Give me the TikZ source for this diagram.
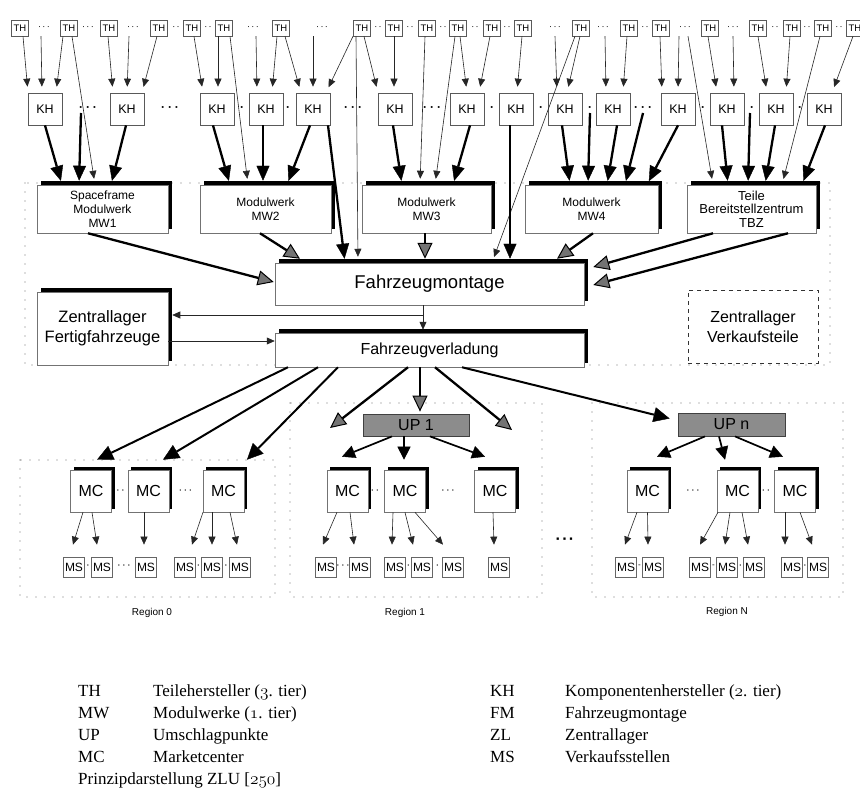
\documentclass[tikz,border=0pt]{standalone}
\usepackage{fontspec}
\setsansfont{Liberation Sans}
\newfontfamily\legendfont{Liberation Serif}
\usetikzlibrary{arrows.meta,shadows}
\newcommand\myfs[2]{\fontsize{#1}{#2}\selectfont}
\newcommand\osnum[1]{$\mathnormal{#1}$}
\newcommand\dthree{·\kern1.3pt·\kern1.3pt·}
\newcommand\dtwo{·\kern1.3pt·}
\newcommand\kthree{·\kern3pt·\kern3pt·}
\begin{document}
\begin{tikzpicture}[x=1pt,y=-1pt,
  every node/.style={inner sep=0pt},
  thbox/.style={draw=black!65,line width=0.6pt,minimum width=17pt,minimum height=16pt,font=\sffamily\myfs{9.5}{10}},
  thdots/.style={minimum height=16pt,font=\sffamily\myfs{9}{10}},
  khbox/.style={draw=black!65,line width=0.7pt,minimum width=34pt,minimum height=32pt,font=\sffamily\myfs{12.5}{13}},
  khdots/.style={minimum height=32pt,font=\sffamily\bfseries\myfs{12}{13}},
  shbox/.style={draw=black!55,line width=0.5pt,fill=white,general shadow={fill=black,shadow xshift=4pt,shadow yshift=4pt}},
  mwbox/.style={shbox,minimum height=48pt,align=center,font=\sffamily\myfs{12}{14}},
  mcbox/.style={draw=black!55,line width=0.6pt,fill=white,general shadow={fill=black,shadow xshift=3pt,shadow yshift=3pt},minimum width=41pt,minimum height=42pt,font=\sffamily\myfs{16}{16}},
  msbox/.style={draw=black!60,line width=0.7pt,minimum width=21pt,minimum height=20pt,font=\sffamily\myfs{12}{12}},
  upbox/.style={draw=black!75,line width=0.8pt,fill=black!45,font=\sffamily\myfs{16}{16}},
  smdots/.style={font=\sffamily\myfs{11}{12}},
  tinysep/.style={font=\sffamily\myfs{8}{9}},
  dotframe/.style={draw=black!55,line width=1.2pt,dash pattern=on 0pt off 9pt,line cap=round},
  tar/.style={draw=black!85,line width=0.6pt,-{Triangle[length=8pt,width=7pt]},shorten >=6pt},
  tarx/.style={draw=black!85,line width=0.6pt,-{Triangle[length=8pt,width=7pt]}},
  kar/.style={draw=black,line width=2.3pt,-{Triangle[length=15pt,width=13pt,line width=0.4pt]},shorten >=4pt},
  gar/.style={draw=black,line width=2.3pt,-{Triangle[length=16pt,width=15pt,line width=1pt,fill=black!55]}},
  far/.style={draw=black,line width=2pt,-{Triangle[length=16pt,width=15pt,line width=0.4pt]}},
  mar/.style={draw=black,line width=1.7pt,-{Triangle[length=13pt,width=13pt,line width=0.4pt]}},
  leg/.style={anchor=base west,font=\legendfont\myfs{17}{19}},
]
\fill[white] (0,0) rectangle (860,803);
\path[use as bounding box] (0,0) rectangle (860,803);

% dotted frames: plant area and the three regions
\draw[dotframe] (25,183) rectangle (830,365);
\draw[dotframe] (20,460) rectangle (275,597);
\draw[dotframe] (290,403) rectangle (542,597);
\draw[dotframe] (592,403) rectangle (843,597);

% 3rd tier: parts suppliers
\foreach \x in {20,69,109,159,192,224,281,362,394,427,458,492,523,581,629,661,710,758,792,823,855}
  \node[thbox] (t\x) at (\x,28) {TH};
\foreach \x/\s in {44/\dthree,88/\dthree,133/\dthree,176/\dtwo,208/\dtwo,253/\dthree,322/\dthree,
  378/\dtwo,410/\dtwo,443/\dtwo,475/\dtwo,507/\dtwo,555/\dthree,603/\dthree,645/\dtwo,685/\dthree,
  733/\dthree,775/\dtwo,807/\dtwo,839/\dtwo}
  \node[thdots] (d\x) at (\x,28) {\s};

% 2nd tier: component suppliers
\foreach \x in {45,127,217,266,313,395,467,516,565,613,678,727,776,824}
  \node[khbox] (k\x) at (\x,109) {KH};
\foreach \x/\s in {88/\kthree,170/\kthree,242/·,288/·,353/\kthree,432/\kthree,492/·,541/·,590/·,
  643/\kthree,703/·,752/·,800/·}
  \node[khdots] (e\x) at (\x,109) {\s};

% 1st tier and assembly
\node[mwbox,minimum width=131pt] (mw1) at (102.5,209) {Spaceframe\\Modulwerk\\MW1};
\node[mwbox,minimum width=131pt] (mw2) at (265.5,209) {Modulwerk\\MW2};
\node[mwbox,minimum width=129pt] (mw3) at (426.5,209) {Modulwerk\\MW3};
\node[mwbox,minimum width=133pt] (mw4) at (591.5,209) {Modulwerk\\MW4};
\node[mwbox,minimum width=129pt,font=\sffamily\myfs{13}{13.5}] (tbz) at (751.5,209) {Teile\\Bereitstellzentrum\\TBZ};
\node[shbox,minimum width=309pt,minimum height=42pt,font=\sffamily\myfs{18.5}{20}] (fm) at (429.5,284) {Fahrzeugmontage};
\node[shbox,minimum width=309pt,minimum height=34pt,font=\sffamily\myfs{16}{18}] (fv) at (429.5,350) {Fahrzeugverladung};
\node[shbox,minimum width=131pt,minimum height=73pt,align=center,font=\sffamily\myfs{16.5}{20}] (zl) at (102.5,328.5) {Zentrallager\\Fertigfahrzeuge};
\node[draw=black!80,line width=1pt,dash pattern=on 4pt off 4pt,minimum width=130pt,minimum height=73pt,align=center,font=\sffamily\myfs{16}{20}] (zlv) at (753,326.5) {Zentrallager\\Verkaufsteile};

% distribution
\node[upbox,minimum width=106pt,minimum height=22pt] (up1) at (416,425) {UP 1};
\node[upbox,minimum width=107pt,minimum height=23pt] (upn) at (731.5,424.5) {UP n};
\foreach \n/\x in {0a/91,0b/148.5,0c/223.5,1a/347.5,1b/405,1c/495,na/647.5,nb/737.5,nc/795}
  \node[mcbox] (mc\n) at (\x,491) {MC};
\foreach \n/\x/\s in {1/118/\dthree,2/185.5/\dthree,3/375/\dtwo,4/448/\dthree,5/693/\dthree,6/766/\dtwo}
  \node[smdots] (md\n) at (\x,492) {\s};
\foreach \n/\x in {0a/74,0b/102,0c/146,0d/185,0e/212,0f/240,1a/326,1b/360,1c/395,1d/422,1e/453,1f/499,
  na/626,nb/653,nc/700,nd/727,ne/754,nf/792,ng/818}
  \node[msbox] (s\n) at (\x,567) {MS};
\foreach \n/\x/\s in {1/88/·,2/124/\dthree,3/198.5/·,4/226/·,5/343/\dthree,6/408.5/·,7/437.5/·,
  10/740.5/·,11/805/·}
  \node[smdots] (sp\n) at (\x,567) {\s};
\node[tinysep] (sp8) at (639.5,566) {-};
\node[tinysep] (sp9) at (713.5,566) {-};
\node[font=\sffamily\bfseries\myfs{16}{16}] (gap) at (565,541) {\dthree};
\node[font=\sffamily\myfs{10}{11}] (lr0) at (152,613) {Region 0};
\node[font=\sffamily\myfs{10}{11}] (lr1) at (405,613) {Region 1};
\node[font=\sffamily\myfs{10}{11}] (lrn) at (727,612) {Region N};

% TH -> KH
\draw[tar] ([xshift=3]t20.south) -- ([xshift=-17]k45.north);
\draw[tar] ([xshift=-3]d44.south) -- ([xshift=-3]k45.north);
\draw[tar] ([xshift=-6]t69.south) -- ([xshift=11]k45.north);
\draw[tar] ([xshift=-1]t109.south) -- ([xshift=-14]k127.north);
\draw[tar] ([xshift=-4]d133.south) -- (k127.north);
\draw[tar] ([xshift=-2]t159.south) -- ([xshift=15]k127.north);
\draw[tar] ([xshift=2]t192.south) -- ([xshift=-14]k217.north);
\draw[tar] ([xshift=-6]t224.south) -- ([xshift=1]k217.north);
\draw[tar] ([xshift=3]d253.south) -- ([xshift=-9]k266.north);
\draw[tar] ([xshift=-4]t281.south) -- ([xshift=6]k266.north);
\draw[tar] ([xshift=4]t281.south) -- ([xshift=-12]k313.north);
\draw[tar] ([xshift=-9]d322.south) -- (k313.north);
\draw[tar] ([xshift=-9]t362.south) -- ([xshift=13]k313.north);
\draw[tar] ([xshift=2]t362.south) -- ([xshift=-17]k395.north);
\draw[tar] (t394.south) -- ([xshift=-1]k395.north);
\draw[tar] ([xshift=2]t458.south) -- (k467.north);
\draw[tar] ([xshift=-2]t492.south) -- ([xshift=12]k467.north);
\draw[tar] ([xshift=-1]t523.south) -- ([xshift=1]k516.north);
\draw[tar] (d555.south) -- ([xshift=-8]k565.north);
\draw[tar] ([xshift=-1]t581.south) -- ([xshift=2]k565.north);
\draw[tar] ([xshift=2]d603.south) -- ([xshift=-7]k613.north);
\draw[tar] ([xshift=-2]t629.south) -- ([xshift=10]k613.north);
\draw[tar] ([xshift=-1]t661.south) -- ([xshift=-16]k678.north);
\draw[tar] ([xshift=-6]d685.south) -- (k678.north);
\draw[tar] ([xshift=-2]t710.south) -- ([xshift=-10]k727.north);
\draw[tar] (d733.south) -- ([xshift=7]k727.north);
\draw[tar] (t758.south) -- ([xshift=-9]k776.north);
\draw[tar] ([xshift=-2]t792.south) -- ([xshift=10]k776.north);
\draw[tar] ([xshift=-2]t855.south) -- ([xshift=8]k824.north);

% TH directly to 1st tier and assembly
\draw[tar] ([xshift=3]t69.south) -- ([xshift=-7.5]mw1.north);
\draw[tar] ([xshift=6]t224.south) -- ([xshift=-17.5]mw2.north);
\draw[tar] ([xshift=-6]t362.south) -- ([xshift=-71.5]fm.north);
\draw[tar] ([xshift=-2]t427.south) -- ([xshift=-6.5]mw3.north);
\draw[tar] ([xshift=-3]t458.south) -- ([xshift=8.5]mw3.north);
\draw[tar] ([xshift=-6]t581.south) -- ([xshift=62.5]fm.north);
\draw[tar] ([xshift=3]d685.south) -- ([xshift=-38.5]tbz.north);
\draw[tar] ([xshift=-3]t823.south) -- ([xshift=30.5]tbz.north);

% KH -> 1st tier and assembly
\draw[kar] (k45.south) -- ([xshift=-40.5]mw1.north);
\draw[kar] ([xshift=-7,yshift=-4]e88.center) -- ([xshift=-23.5]mw1.north);
\draw[kar] ([xshift=-1]k127.south) -- ([xshift=8.5]mw1.north);
\draw[kar] ([xshift=-4]k217.south) -- ([xshift=-35.5]mw2.north);
\draw[kar] ([xshift=-3]k266.south) -- ([xshift=-2.5]mw2.north);
\draw[kar] ([xshift=-3]k313.south) -- ([xshift=21.5]mw2.north);
\draw[kar] ([xshift=15]k313.south) -- ([xshift=-84.5]fm.north);
\draw[kar] ([xshift=-2]k395.south) -- ([xshift=-24.5]mw3.north);
\draw[kar] ([xshift=3]k467.south) -- ([xshift=26.5]mw3.north);
\draw[kar] ([xshift=-6]k516.south) -- ([xshift=80.5]fm.north);
\draw[kar] ([xshift=-3]k565.south) -- ([xshift=-21.5]mw4.north);
\draw[kar] ([yshift=-4]e590.center) -- ([xshift=-3.5]mw4.north);
\draw[kar] ([xshift=4]k613.south) -- ([xshift=15.5]mw4.north);
\draw[kar] ([yshift=-4]e643.center) -- ([xshift=33.5]mw4.north);
\draw[kar] (k678.south) -- ([xshift=55.5]mw4.north);
\draw[kar] ([xshift=-5]k727.south) -- ([xshift=-23.5]tbz.north);
\draw[kar] ([xshift=-2,yshift=-4]e752.center) -- ([xshift=-3.5]tbz.north);
\draw[kar] ([xshift=-1]k776.south) -- ([xshift=13.5]tbz.north);
\draw[kar] ([xshift=1]k824.south) -- ([xshift=50.5]tbz.north);

% 1st tier -> assembly
\draw[gar] ([xshift=-14.5]mw1.south) -- ([xshift=-1,yshift=2]fm.west);
\draw[gar] ([xshift=-5.5]mw2.south) -- ([xshift=-129.5,yshift=4]fm.north);
\draw[gar] ([xshift=-1.5]mw3.south) -- ([xshift=-4.5,yshift=4]fm.north);
\draw[gar] ([xshift=1.5]mw4.south) -- ([xshift=127.5,yshift=4]fm.north);
\draw[gar] ([xshift=-38.5]tbz.south) -- ([xshift=9,yshift=17]fm.east);
\draw[gar] ([xshift=36.5]tbz.south) -- ([xshift=9,yshift=-1]fm.east);

% assembly, loading and the finished-vehicle store
\coordinate (jn) at (423,315);
\draw[tarx,shorten >=3pt] (fm.south -| jn) -- (fv.north -| jn);
\draw[tarx,shorten >=4pt] (jn) -- (zl.east |- jn);
\draw[tarx] ([yshift=-12.5]zl.east) -- ([yshift=9]fv.west);

% loading -> regions
\coordinate (r1l) at (330,428);
\coordinate (r1r) at (512,430);
\draw[far] ([xshift=-141.5]fv.south) -- ([xshift=6,yshift=10]mc0a.north);
\draw[far] ([xshift=-111.5]fv.south) -- ([xshift=14.5,yshift=10]mc0b.north);
\draw[far] ([xshift=-91.5]fv.south) -- ([xshift=23.5,yshift=10]mc0c.north);
\draw[gar] ([xshift=-21.5]fv.south) -- (r1l);
\draw[gar] ([xshift=-9.5]fv.south) -- ([xshift=4,yshift=2]up1.north);
\draw[gar] ([xshift=5.5]fv.south) -- (r1r);
\draw[far] ([xshift=32.5]fv.south) -- ([xshift=-8,yshift=6]upn.west);

% transshipment points -> market centres
\draw[mar] ([xshift=-24]up1.south) -- ([xshift=-5.5,yshift=13]mc1a.north);
\draw[mar] ([xshift=-12]up1.south) -- ([xshift=-1,yshift=10]mc1b.north);
\draw[mar] ([xshift=14]up1.south) -- ([xshift=-10,yshift=13]mc1c.north);
\draw[mar] ([xshift=-26.5]upn.south) -- ([xshift=9.5,yshift=13]mcna.north);
\draw[mar] ([xshift=-12.5]upn.south) -- ([xshift=-12.5,yshift=10]mcnb.north);
\draw[mar] ([xshift=3.5]upn.south) -- ([xshift=-12,yshift=13]mcnc.north);

% market centres -> sales outlets
\draw[tarx] ([xshift=-8]mc0a.south) -- ([xshift=-1,yshift=12]s0a.north);
\draw[tarx] ([xshift=1]mc0a.south) -- ([xshift=-5,yshift=12]s0b.north);
\draw[tarx] ([xshift=-4.5]mc0b.south) -- ([xshift=-2,yshift=12]s0c.north);
\draw[tarx] ([xshift=-20.5]mc0c.south) -- ([xshift=7,yshift=12]s0d.north);
\draw[tarx] ([xshift=-11.5]mc0c.south) -- ([yshift=12]s0e.north);
\draw[tarx] ([xshift=6.5]mc0c.south) -- ([xshift=-3,yshift=12]s0f.north);
\draw[tarx] ([xshift=-10.5]mc1a.south) -- ([xshift=-3,yshift=12]s1a.north);
\draw[tarx] ([xshift=2.5]mc1a.south) -- ([xshift=-6,yshift=12]s1b.north);
\draw[tarx] ([xshift=-12]mc1b.south) -- ([xshift=-3,yshift=12]s1c.north);
\draw[tarx] (mc1b.south) -- ([xshift=-9,yshift=12]s1d.north);
\draw[tarx] ([xshift=10]mc1b.south) -- ([xshift=-10,yshift=12]s1e.north);
\draw[tarx] ([xshift=-2]mc1c.south) -- ([xshift=-5,yshift=12]s1f.north);
\draw[tarx] ([xshift=-10.5]mcna.south) -- ([xshift=-1,yshift=12]sna.north);
\draw[tarx] (mcna.south) -- ([xshift=-5,yshift=12]snb.north);
\draw[tarx] ([xshift=-19.5]mcnb.south) -- ([yshift=12]snc.north);
\draw[tarx] ([xshift=-7.5]mcnb.south) -- ([xshift=-2,yshift=12]snd.north);
\draw[tarx] ([xshift=4.5]mcnb.south) -- ([xshift=-6,yshift=12]sne.north);
\draw[tarx] ([xshift=-10]mcnc.south) -- ([xshift=-7,yshift=12]snf.north);
\draw[tarx] ([xshift=5]mcnc.south) -- ([xshift=-6,yshift=12]sng.north);

% legend
\node[leg] (a1) at (78,696) {TH};  \node[leg] (b1) at (153,696) {Teilehersteller (\osnum{3}. tier)};
\node[leg] (a2) at (78,718) {MW};  \node[leg] (b2) at (153,718) {Modulwerke (\osnum{1}. tier)};
\node[leg] (a3) at (78,740) {UP};  \node[leg] (b3) at (153,740) {Umschlagpunkte};
\node[leg] (a4) at (78,762) {MC};  \node[leg] (b4) at (153,762) {Marketcenter};
\node[leg] (a5) at (78,784) {Prinzipdarstellung ZLU [\osnum{250}]};
\node[leg] (c1) at (490,696) {KH};  \node[leg] (f1) at (565,696) {Komponentenhersteller (\osnum{2}. tier)};
\node[leg] (c2) at (490,718) {FM};  \node[leg] (f2) at (565,718) {Fahrzeugmontage};
\node[leg] (c3) at (490,740) {ZL};  \node[leg] (f3) at (565,740) {Zentrallager};
\node[leg] (c4) at (490,762) {MS};  \node[leg] (f4) at (565,762) {Verkaufsstellen};
\end{tikzpicture}
\end{document}
